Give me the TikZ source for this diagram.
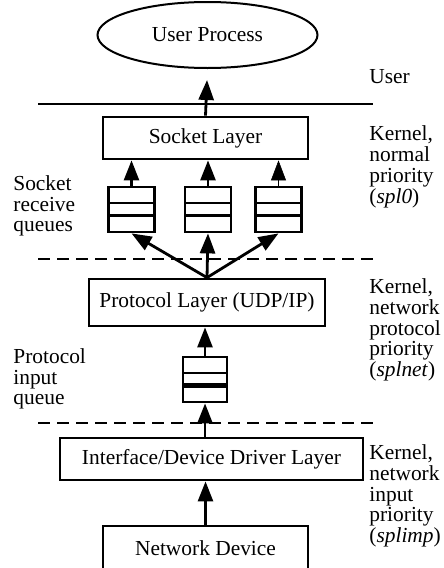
\documentclass[tikz,border=0pt]{standalone}
\usepackage{fontspec}
\setmainfont{Liberation Serif}
\usetikzlibrary{arrows.meta,shapes.geometric}
\tikzset{
	every node/.style={font=\fontsize{10.7}{10.4}\selectfont},
	schicht/.style={draw, line width=1.4pt, minimum width=#1, minimum height=21pt, inner sep=0pt},
	rxq/.style={draw, line width=1.4pt, minimum width=23pt, minimum height=22.5pt, inner sep=0pt,
		path picture={
			\draw[line width=1.4pt] ([yshift=-8pt]path picture bounding box.north west) -- ([yshift=-8pt]path picture bounding box.north east);
			\draw[line width=#1] ([yshift=-14.2pt]path picture bounding box.north west) -- ([yshift=-14.2pt]path picture bounding box.north east);
		}},
	pfeil/.style={-{Triangle[length=10pt,width=7.5pt]}, line width=1.4pt},
	trenn/.style={line width=1.3pt, dash pattern=on 6pt off 3.5pt},
	notiz/.style={anchor=west, align=left, inner sep=0pt}
}
\begin{document}
\begin{tikzpicture}[x=0.5pt,y=-0.5pt]
	\useasboundingbox (0,0) rectangle (444,568);
	% Ebenen
	\node [draw, ellipse, line width=1pt, minimum width=110pt, minimum height=33pt, inner sep=0pt] (user) at (207.5,35) {User Process};
	\node [schicht=102.5pt] (sock) at (205.5,138) {Socket Layer};
	\node [schicht=118pt, minimum height=23.5pt] (proto) at (207,302.5) {Protocol Layer (UDP/IP)};
	\node [schicht=151.5pt] (iface) at (211.5,459) {Interface/Device Driver Layer};
	\node [schicht=102.5pt, minimum height=22pt] (netdev) at (205.5,548) {Network Device};
	% Warteschlangen
	\foreach \name/\x in {q1/131.5, q2/208, q3/278.5} {
		\node [rxq=1.4pt] (\name) at (\x,209.5) {};
	}
	\node [rxq=2.6pt, minimum width=22pt] (pq) at (205,379.5) {};
	% Trennlinien
	\draw [line width=1.3pt] (38,104) -- (373,104);
	\draw [trenn] (38,259) -- (373,259);
	\draw [trenn] (38,423) -- (373,423);
	% Pfeile
	\draw [pfeil, shorten >=5.5pt] (sock.north) -- (user.south);
	\draw [pfeil] (q1.north) -- (q1.north |- sock.south);
	\draw [pfeil] (q2.north) -- (q2.north |- sock.south);
	\draw [pfeil, line width=0.3pt] (q3.north) -- (q3.north |- sock.south);
	\foreach \name in {q1, q2, q3} {
		\draw [pfeil] (proto.north) -- (\name.south);
	}
	\draw [pfeil] (pq.north) -- (pq.north |- proto.south);
	\draw [pfeil] (iface.north -| pq.south) -- (pq.south);
	\draw [pfeil] (netdev.north) -- (netdev.north |- iface.south);
	% Beschriftung
	\node [notiz] (luser) at (369,77) {User};
	\node [notiz] (lspl) at (369,167) {Kernel,\\normal\\priority\\(\textit{spl0})};
	\node [notiz] (lnet) at (369,330) {Kernel,\\network\\protocol\\priority\\(\textit{splnet})};
	\node [notiz] (limp) at (369,496) {Kernel,\\network\\input\\priority\\(\textit{splimp})};
	\node [notiz] (lrxq) at (13,206) {Socket\\receive\\queues};
	\node [notiz] (lpq) at (13,379) {Protocol\\input\\queue};
\end{tikzpicture}
\end{document}
